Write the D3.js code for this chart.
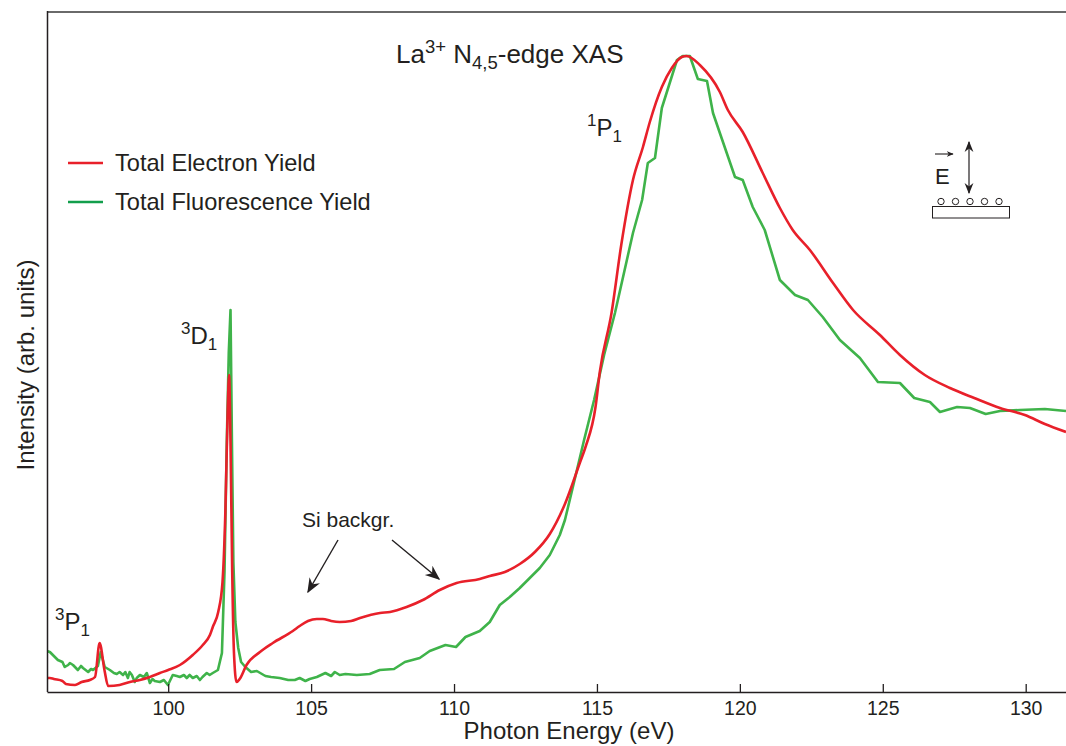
<!DOCTYPE html>
<html>
<head>
<meta charset="utf-8">
<script src="https://cdn.jsdelivr.net/npm/d3@7"></script>
<style>
  html, body { margin: 0; padding: 0; background: #fff; }
  svg { display: block; font-family: "Liberation Sans", Arial, Helvetica, sans-serif; }
  text { fill: #231f20; }
</style>
</head>
<body>
<svg id="chart" width="1066" height="746"></svg>
<script>
// La3+ N4,5-edge XAS: total electron yield vs total fluorescence yield (arb. units)

const teyEnergy = [95.76, 95.86, 96.0, 96.3, 96.42, 96.74, 96.97, 97.26, 97.44, 97.6, 97.77, 97.9, 98.3, 98.66, 99.01, 99.36, 99.71, 100.0, 100.41, 100.86, 101.21, 101.46, 101.56, 101.75, 101.9, 102.0, 102.08, 102.13, 102.18, 102.24, 102.3, 102.39, 102.5, 102.74, 103.21, 103.66, 104.36, 104.6, 104.89, 105.2, 105.41, 105.7, 106.0, 106.4, 106.71, 107.41, 107.76, 108.34, 108.91, 109.5, 110.09, 110.9, 111.25, 111.78, 112.3, 112.83, 113.35, 113.88, 114.4, 114.6, 114.95, 115.1, 115.51, 115.85, 116.26, 116.61, 116.85, 117.27, 117.62, 117.97, 118.14, 118.6, 119.3, 119.58, 120.1, 120.8, 121.4, 121.85, 122.45, 123.26, 123.96, 124.9, 125.6, 126.47, 127.35, 128.2, 129.1, 129.97, 130.67, 131.41];
const teyIntensity = [14, 14, 13, 11, 8, 7, 10, 12, 15, 49, 22, 6, 7, 10, 12, 15, 19, 22, 27, 37, 47, 57, 65, 80, 110, 180, 280, 317, 250, 120, 40, 10, 13, 27, 40, 49, 61, 66, 71, 73, 73, 71, 70, 71, 74, 79, 80, 85, 92, 102, 109, 113, 116, 120, 128, 140, 158, 188, 229, 245, 285, 320, 379, 447, 512, 545, 570, 605, 624, 635, 636, 627, 600, 582, 560, 519, 484, 462, 442, 409, 382, 357, 337, 317, 304, 294, 284, 277, 268, 260];

const tfyEnergy = [95.76, 95.86, 96.0, 96.14, 96.3, 96.38, 96.5, 96.56, 96.67, 96.84, 96.95, 97.02, 97.2, 97.3, 97.37, 97.54, 97.64, 97.78, 97.96, 98.1, 98.2, 98.3, 98.42, 98.5, 98.59, 98.65, 98.73, 98.83, 98.9, 99.01, 99.15, 99.25, 99.36, 99.45, 99.53, 99.71, 99.85, 99.99, 100.16, 100.3, 100.41, 100.55, 100.65, 100.75, 100.86, 101.0, 101.11, 101.2, 101.35, 101.45, 101.56, 101.74, 101.88, 101.97, 102.05, 102.12, 102.18, 102.23, 102.28, 102.35, 102.45, 102.55, 102.7, 102.9, 103.1, 103.4, 103.6, 103.9, 104.2, 104.43, 104.6, 104.8, 104.95, 105.2, 105.5, 105.7, 105.83, 106.0, 106.2, 106.6, 107.05, 107.4, 107.9, 108.28, 108.8, 109.15, 109.7, 110.07, 110.4, 110.9, 111.25, 111.6, 111.95, 112.3, 112.65, 113.0, 113.35, 113.7, 113.88, 114.2, 114.55, 114.9, 115.25, 115.63, 116.26, 116.58, 116.78, 117.03, 117.27, 117.8, 118.0, 118.25, 118.53, 118.85, 119.06, 119.3, 119.83, 120.1, 120.45, 120.87, 121.4, 121.93, 122.38, 122.9, 123.5, 124.2, 124.83, 125.6, 126.1, 126.65, 127.0, 127.6, 128.05, 128.6, 129.1, 129.8, 130.67, 131.41];
const tfyIntensity = [41, 40, 36, 32, 30, 25, 27, 29, 27, 22, 26, 24, 20, 23, 22, 26, 40, 25, 22, 19, 18, 20, 17, 20, 14, 20, 17, 10, 14, 17, 15, 19, 9, 13, 11, 10, 12, 7, 17, 16, 15, 17, 14, 17, 14, 16, 12, 15, 19, 17, 19, 22, 39, 120, 250, 340, 382, 250, 130, 70, 44, 30, 25, 20, 21, 16, 15, 14, 12, 12, 14, 11, 13, 15, 19, 16, 20, 17, 18, 17, 18, 22, 23, 30, 34, 41, 47, 45, 55, 61, 70, 87, 95, 104, 114, 124, 137, 157, 172, 210, 252, 292, 337, 379, 459, 492, 529, 534, 584, 632, 636, 636, 613, 611, 579, 559, 515, 512, 485, 462, 412, 397, 392, 375, 352, 334, 310, 309, 294, 290, 280, 285, 284, 278, 281, 282, 283, 281];

const xTicks = [100, 105, 110, 115, 120, 125, 130];
const seriesNames = ["Total Electron Yield", "Total Fluorescence Yield"];
const seriesColors = ["#e8202a", "#3fb34a"];
const legendColors = ["#e8202a", "#129e4c"];

const svg = d3.select("#chart");
const plot = { left: 47, right: 1066, top: 12, bottom: 692 };

const x = d3.scaleLinear().domain([95.76, 131.41]).range([plot.left, plot.right]);
const y = d3.scaleLinear().domain([0, 680]).range([plot.bottom, plot.top]);

const defs = svg.append("defs");
defs.append("clipPath").attr("id", "plot-clip")
  .append("rect")
  .attr("x", plot.left).attr("y", plot.top)
  .attr("width", plot.right - plot.left).attr("height", plot.bottom - plot.top);

function arrowMarker(id, size, orient) {
  defs.append("marker")
    .attr("id", id).attr("viewBox", "0 0 10 10").attr("refX", 9).attr("refY", 5)
    .attr("markerWidth", size).attr("markerHeight", size).attr("markerUnits", "userSpaceOnUse")
    .attr("orient", orient)
    .append("path").attr("d", "M0,1 L10,5 L0,9 L3,5 Z").attr("fill", "#231f20");
}
arrowMarker("arrowhead", 15, "auto");
arrowMarker("smallhead", 7, "auto");
arrowMarker("dblhead", 11, "auto-start-reverse");

const tey = teyEnergy.map((e, i) => [e, teyIntensity[i]]);
const tfy = tfyEnergy.map((e, i) => [e, tfyIntensity[i]]);

const smoothLine = d3.line().x(d => x(d[0])).y(d => y(d[1])).curve(d3.curveMonotoneX);
const rawLine = d3.line().x(d => x(d[0])).y(d => y(d[1])).curve(d3.curveLinear);

const curves = svg.append("g").attr("clip-path", "url(#plot-clip)");
curves.append("path").datum(tfy)
  .attr("d", rawLine).attr("fill", "none")
  .attr("stroke", seriesColors[1]).attr("stroke-width", 2.6).attr("stroke-linejoin", "round");
curves.append("path").datum(tey)
  .attr("d", smoothLine).attr("fill", "none")
  .attr("stroke", seriesColors[0]).attr("stroke-width", 2.6).attr("stroke-linejoin", "round");

// frame: gray top edge, black left edge
svg.append("line")
  .attr("x1", plot.left).attr("x2", plot.right).attr("y1", plot.top).attr("y2", plot.top)
  .attr("stroke", "#6a6a6a").attr("stroke-width", 2);
svg.append("line")
  .attr("x1", plot.left + 0.5).attr("x2", plot.left + 0.5).attr("y1", plot.top - 1).attr("y2", plot.bottom)
  .attr("stroke", "#231f20").attr("stroke-width", 1.5);

// bottom axis with inward ticks
const xAxis = d3.axisBottom(x).tickValues(xTicks).tickFormat(d3.format("d"))
  .tickSizeInner(-8).tickSizeOuter(0).tickPadding(9);
const gx = svg.append("g").attr("transform", `translate(0,${plot.bottom})`).call(xAxis);
gx.select(".domain").attr("stroke", "#231f20").attr("stroke-width", 1.5);
gx.selectAll(".tick line").attr("stroke", "#231f20").attr("stroke-width", 1.3);
gx.selectAll(".tick text").attr("font-size", 19.5).attr("font-family", null).style("fill", "#231f20");

svg.append("text")
  .attr("x", 569).attr("y", 739).attr("text-anchor", "middle")
  .attr("font-size", 24).text("Photon Energy (eV)");

svg.append("text")
  .attr("transform", "translate(34,365) rotate(-90)")
  .attr("text-anchor", "middle").attr("font-size", 24)
  .text("Intensity (arb. units)");

// title
const title = svg.append("text").attr("x", 396).attr("y", 63).attr("font-size", 26);
title.append("tspan").text("La");
title.append("tspan").attr("dy", -10).attr("font-size", 18.5).text("3+");
title.append("tspan").attr("dy", 10).text(" N");
title.append("tspan").attr("dy", 6).attr("font-size", 18.5).text("4,5");
title.append("tspan").attr("dy", -6).text("-edge XAS");

// legend
seriesNames.forEach((name, i) => {
  const ly = 163 + i * 39;
  svg.append("line")
    .attr("x1", 68).attr("x2", 103).attr("y1", ly).attr("y2", ly)
    .attr("stroke", legendColors[i]).attr("stroke-width", 2.6);
  svg.append("text").attr("x", 115).attr("y", ly + 8).attr("font-size", 23.6).text(name);
});

// term labels
function termLabel(px, py, sup, main, sub) {
  const t = svg.append("text").attr("x", px).attr("y", py).attr("font-size", 24);
  t.append("tspan").attr("dy", -10).attr("font-size", 17).text(sup);
  t.append("tspan").attr("dy", 10).text(main);
  t.append("tspan").attr("dy", 6).attr("font-size", 17).text(sub);
}
termLabel(55, 630, "3", "P", "1");
termLabel(181, 344, "3", "D", "1");
termLabel(587, 136, "1", "P", "1");

// Si background annotation with arrows
svg.append("text").attr("x", 302).attr("y", 527).attr("font-size", 21).text("Si backgr.");
svg.append("line").attr("x1", 338).attr("y1", 540).attr("x2", 308).attr("y2", 592)
  .attr("stroke", "#231f20").attr("stroke-width", 1.4).attr("marker-end", "url(#arrowhead)");
svg.append("line").attr("x1", 392).attr("y1", 540).attr("x2", 439).attr("y2", 579)
  .attr("stroke", "#231f20").attr("stroke-width", 1.4).attr("marker-end", "url(#arrowhead)");

// polarization geometry sketch
const inset = svg.append("g");
inset.append("text").attr("x", 935).attr("y", 184).attr("font-size", 22).text("E");
inset.append("line").attr("x1", 935).attr("y1", 154).attr("x2", 953).attr("y2", 154)
  .attr("stroke", "#231f20").attr("stroke-width", 1.1).attr("marker-end", "url(#smallhead)");
inset.append("line").attr("x1", 969).attr("y1", 142).attr("x2", 969).attr("y2", 193)
  .attr("stroke", "#231f20").attr("stroke-width", 1.2)
  .attr("marker-start", "url(#dblhead)").attr("marker-end", "url(#dblhead)");
[941, 955.5, 970, 984.5, 999].forEach(cx => {
  inset.append("circle").attr("cx", cx).attr("cy", 201.5).attr("r", 3.2)
    .attr("fill", "#fff").attr("stroke", "#231f20").attr("stroke-width", 1);
});
inset.append("rect").attr("x", 932.5).attr("y", 206.5).attr("width", 77).attr("height", 11.5)
  .attr("fill", "#fff").attr("stroke", "#231f20").attr("stroke-width", 1);
</script>
</body>
</html>
